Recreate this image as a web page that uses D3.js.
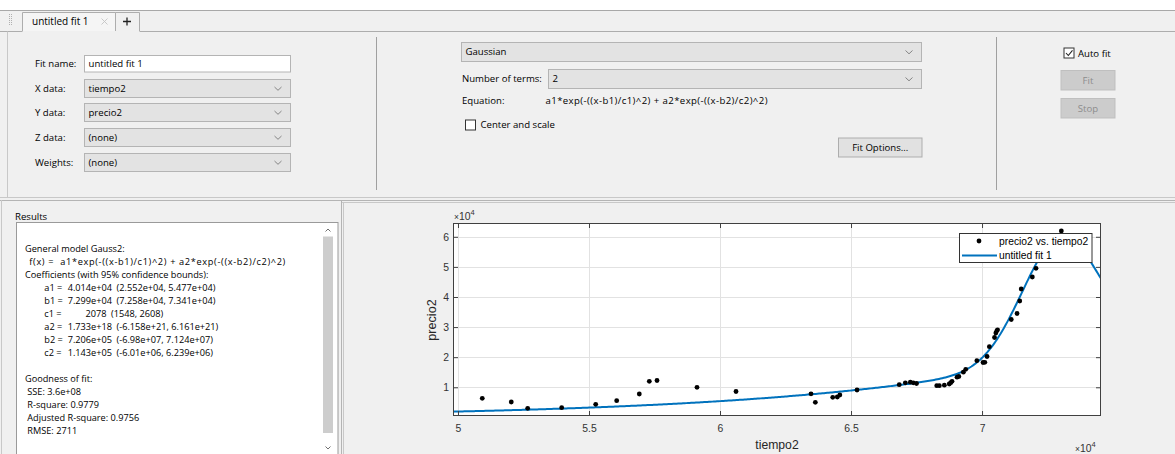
<!DOCTYPE html>
<html>
<head>
<meta charset="utf-8">
<script src="https://cdn.jsdelivr.net/npm/d3@7"></script>
<style>
  html, body { margin: 0; padding: 0; background: #f0f0f0; }
  svg { display: block; }
  .ui { font-family: "Open Sans", "Noto Sans", sans-serif; font-size: 9.6px; fill: #000; white-space: pre; }
  .res { font-family: "Open Sans", "Noto Sans", sans-serif; font-size: 9.2px; fill: #000; white-space: pre; }
  .ax { font-family: "Liberation Sans", Arial, sans-serif; }
</style>
</head>
<body>
<svg id="app" width="1175" height="454"></svg>
<script>
// Observed data: tiempo2 (x) and precio2 (y)
const tiempo2 = [50927, 52034, 52660, 53958, 55256, 56057, 56920, 57302, 57596, 59122,
  60611, 63473, 63638, 64302, 64477, 64573, 65229, 66840, 67073, 67264,
  67378, 67500, 68271, 68371, 68562, 68749, 68806, 68855, 69046, 69115,
  69287, 69378, 69802, 70038, 70107, 70191, 70279, 70477, 70527, 70565,
  70592, 71115, 71336, 71439, 71495, 71919, 72060, 73026];
const precio2 = [6345, 5116, 3023, 3222, 4352, 5548, 7773, 11992, 12258, 9999,
  8604, 7840, 5016, 6677, 6777, 7441, 9102, 10863, 11494, 11693,
  11494, 11262, 10531, 10531, 10697, 11095, 11527, 11992, 13354, 13587,
  15015, 15979, 18836, 18238, 18304, 20231, 23487, 26543, 28038, 28769,
  29101, 32522, 34516, 38668, 42655, 46641, 49531, 61922];

// Gauss2 fit coefficients and 95% confidence bounds
const coefNames = ["a1", "b1", "c1", "a2", "b2", "c2"];
const coefValues = [4.014e4, 7.299e4, 2078, 1.733e18, 7.206e5, 1.143e5];
const coefText = ["4.014e+04", "7.299e+04", "2078", "1.733e+18", "7.206e+05", "1.143e+05"];
const boundsText = ["(2.552e+04, 5.477e+04)", "(7.258e+04, 7.341e+04)", "(1548, 2608)",
  "(-6.158e+21, 6.161e+21)", "(-6.98e+07, 7.124e+07)", "(-6.01e+06, 6.239e+06)"];
const goodnessText = ["SSE: 3.6e+08", "R-square: 0.9779", "Adjusted R-square: 0.9756", "RMSE: 2711"];

// Axis settings
const xDomain = [49810, 74540];
const yDomain = [460, 64580];
const xTicks = [50000, 55000, 60000, 65000, 70000];
const xTickLabels = ["5", "5.5", "6", "6.5", "7"];
const yTicks = [10000, 20000, 30000, 40000, 50000, 60000];
const yTickLabels = ["1", "2", "3", "4", "5", "6"];
const legendLabels = ["precio2 vs. tiempo2", "untitled fit 1"];

const svg = d3.select("#app");
const BLUE = "#0072bd";

// ---------- window chrome ----------
svg.append("rect").attr("x", 0).attr("y", 0).attr("width", 1175).attr("height", 454).attr("fill", "#f0f0f0");
svg.append("rect").attr("x", 0).attr("y", 0).attr("width", 1175).attr("height", 10).attr("fill", "#ffffff");
svg.append("line").attr("x1", 0).attr("x2", 1175).attr("y1", 10.5).attr("y2", 10.5).attr("stroke", "#a8a8a8");

// grip dots
for (let i = 0; i < 6; i++) {
  svg.append("rect").attr("x", 9).attr("y", 14 + i * 2).attr("width", 1).attr("height", 1).attr("fill", "#b0b0b0");
  svg.append("rect").attr("x", 11).attr("y", 14 + i * 2).attr("width", 1).attr("height", 1).attr("fill", "#b0b0b0");
}

// tabs
svg.append("path").attr("d", "M22.5,31 V12.5 H115.5 V31").attr("fill", "#f5f5f5").attr("stroke", "#adadad");
svg.append("path").attr("d", "M115.5,31 V12.5 H139.5 V31").attr("fill", "#f0f0f0").attr("stroke", "#adadad");
svg.append("text").attr("class", "ui").attr("x", 32).attr("y", 21.5).attr("dy", "0.35em").style("font-size", "10px").text("untitled fit 1");
svg.append("path").attr("d", "M101.5,18.5 L107.5,24.5 M107.5,18.5 L101.5,24.5").attr("stroke", "#c4c4c4").attr("stroke-width", 0.9);
svg.append("path").attr("d", "M123,21.5 H131 M127,17.5 V25.5").attr("stroke", "#222").attr("stroke-width", 1.3);
svg.append("line").attr("x1", 0).attr("x2", 22.5).attr("y1", 31.5).attr("y2", 31.5).attr("stroke", "#adadad");
svg.append("line").attr("x1", 139.5).attr("x2", 1175).attr("y1", 31.5).attr("y2", 31.5).attr("stroke", "#adadad");
svg.append("line").attr("x1", 7.5).attr("x2", 7.5).attr("y1", 31.5).attr("y2", 198).attr("stroke", "#c8c8c8");

// separators in the fit panel
[376.5, 996.5].forEach(x => {
  svg.append("line").attr("x1", x).attr("x2", x).attr("y1", 37).attr("y2", 190).attr("stroke", "#a0a0a0");
});
// panel border lines
svg.append("line").attr("x1", 0).attr("x2", 1175).attr("y1", 197.5).attr("y2", 197.5).attr("stroke", "#c8c8c8");
svg.append("line").attr("x1", 0).attr("x2", 1175).attr("y1", 200.5).attr("y2", 200.5).attr("stroke", "#b4b4b4");
svg.append("line").attr("x1", 341).attr("x2", 1175).attr("y1", 202.5).attr("y2", 202.5).attr("stroke", "#c8c8c8");
svg.append("line").attr("x1", 341.5).attr("x2", 341.5).attr("y1", 200).attr("y2", 454).attr("stroke", "#b4b4b4");
svg.append("line").attr("x1", 343.5).attr("x2", 343.5).attr("y1", 202).attr("y2", 454).attr("stroke", "#c8c8c8");
svg.append("line").attr("x1", 1.5).attr("x2", 1.5).attr("y1", 200).attr("y2", 454).attr("stroke", "#c8c8c8");

function chevron(g, cx, cy, color) {
  g.append("path").attr("d", `M${cx - 3.5},${cy - 1.5} L${cx},${cy + 1.8} L${cx + 3.5},${cy - 1.5}`)
    .attr("fill", "none").attr("stroke", color || "#7a7a7a").attr("stroke-width", 0.9);
}
function combo(x, y, w, h, label) {
  svg.append("rect").attr("x", x + 0.5).attr("y", y + 0.5).attr("width", w).attr("height", h)
    .attr("fill", "#e3e3e3").attr("stroke", "#b4b4b4");
  svg.append("text").attr("class", "ui").attr("x", x + 4.5).attr("y", y + h / 2 + 0.5).attr("dy", "0.35em").text(label);
  chevron(svg, x + w - 12, y + h / 2 + 0.5);
}
function label(x, y, t, len) {
  const el = svg.append("text").attr("class", "ui").attr("x", x).attr("y", y).attr("dy", "0.35em").text(t);
  if (len) el.attr("textLength", len).attr("lengthAdjust", "spacing");
}
function button(x, y, w, h, t, disabled) {
  svg.append("rect").attr("x", x + 0.5).attr("y", y + 0.5).attr("width", w).attr("height", h)
    .attr("fill", disabled ? "#cccccc" : "#e1e1e1").attr("stroke", disabled ? "#bfbfbf" : "#adadad");
  svg.append("text").attr("class", "ui").attr("x", x + w / 2 + 0.5).attr("y", y + h / 2 + 0.5).attr("dy", "0.35em")
    .attr("text-anchor", "middle").style("fill", disabled ? "#8c8c8c" : "#000").text(t);
}
function checkbox(x, y, checked) {
  svg.append("rect").attr("x", x + 0.5).attr("y", y + 0.5).attr("width", 10).attr("height", 10)
    .attr("fill", "#ffffff").attr("stroke", "#333333");
  if (checked) {
    svg.append("path").attr("d", `M${x + 2.5},${y + 5.5} L${x + 4.8},${y + 8} L${x + 9},${y + 2.8}`)
      .attr("fill", "none").attr("stroke", "#222").attr("stroke-width", 1.1);
  }
}

// data selection block
label(35, 63.5, "Fit name:");
svg.append("rect").attr("x", 84.5).attr("y", 55.5).attr("width", 206).attr("height", 16.5)
  .attr("fill", "#ffffff").attr("stroke", "#b4b4b4");
svg.append("text").attr("class", "ui").attr("x", 88.5).attr("y", 63.8).attr("dy", "0.35em").text("untitled fit 1");
label(35, 88.3, "X data:");
combo(84, 79, 206, 18, "tiempo2");
label(35, 112.5, "Y data:");
combo(84, 103, 206, 18, "precio2");
label(35, 137.5, "Z data:");
combo(84, 128, 206, 18, "(none)");
label(35, 162.5, "Weights:");
combo(84, 153, 206, 18, "(none)");

// model block
combo(461, 42, 460, 19, "Gaussian");
label(462, 78.5, "Number of terms:");
combo(548, 69, 373, 19, "2");
label(462, 101, "Equation:");
label(545.5, 101, "a1*exp(-((x-b1)/c1)^2) + a2*exp(-((x-b2)/c2)^2)", 222);
checkbox(465, 119.5, false);
label(480.5, 125, "Center and scale");
button(838, 137.5, 83.5, 19, "Fit Options...", false);

// fit control block
checkbox(1063.5, 47.5, true);
label(1078, 53.5, "Auto fit");
button(1060.5, 70, 54, 19.5, "Fit", true);
button(1060.5, 98, 54, 19.5, "Stop", true);

// ---------- results panel ----------
label(15, 216.5, "Results");
svg.append("rect").attr("x", 16.5).attr("y", 222.5).attr("width", 321.5).attr("height", 240)
  .attr("fill", "#ffffff").attr("stroke", "#9a9a9a");
// scrollbar
svg.append("rect").attr("x", 323).attr("y", 236.5).attr("width", 10).attr("height", 196.5).attr("fill", "#cdcdcd");
svg.append("path").attr("d", "M325.5,231.5 L328,229 L330.5,231.5").attr("fill", "none").attr("stroke", "#606060").attr("stroke-width", 0.9);
svg.append("path").attr("d", "M325.5,446.5 L328,449 L330.5,446.5").attr("fill", "none").attr("stroke", "#606060").attr("stroke-width", 0.9);

const lineStep = 13.06;
const line0 = 248.3;
function resLine(i, x, t, len, anchor) {
  const el = svg.append("text").attr("class", "res").attr("x", x).attr("y", line0 + i * lineStep).attr("dy", "0.35em")
    .attr("text-anchor", anchor || "start").text(t);
  if (len) el.attr("textLength", len).attr("lengthAdjust", "spacing");
}
resLine(0, 25, "General model Gauss2:");
resLine(1, 29.3, "f(x) =  a1*exp(-((x-b1)/c1)^2) + a2*exp(-((x-b2)/c2)^2)", 256);
resLine(2, 25, "Coefficients (with 95% confidence bounds):");
coefNames.forEach((n, i) => {
  const short = coefText[i].length < 6;
  resLine(3 + i, 44.3, n + " =");
  resLine(3 + i, short ? 106.5 : 112, coefText[i], null, "end");
  resLine(3 + i, short ? 111 : 116.5, boundsText[i]);
});
resLine(10, 25, "Goodness of fit:");
goodnessText.forEach((t, i) => resLine(11 + i, 27.3, t));

// ---------- plot ----------
const plotL = 453, plotR = 1101, plotT = 223, plotB = 416;
const x = d3.scaleLinear().domain(xDomain).range([plotL, plotR]);
const y = d3.scaleLinear().domain(yDomain).range([plotB, plotT]);

const plot = svg.append("g");
plot.append("rect").attr("x", plotL).attr("y", plotT).attr("width", plotR - plotL).attr("height", plotB - plotT)
  .attr("fill", "#ffffff");

// grid
plot.append("g").selectAll("line").data(xTicks).join("line")
  .attr("x1", d => Math.round(x(d)) + 0.5).attr("x2", d => Math.round(x(d)) + 0.5)
  .attr("y1", plotT).attr("y2", plotB).attr("stroke", "#e2e2e2");
plot.append("g").selectAll("line").data(yTicks).join("line")
  .attr("y1", d => Math.round(y(d)) + 0.5).attr("y2", d => Math.round(y(d)) + 0.5)
  .attr("x1", plotL).attr("x2", plotR).attr("stroke", "#e2e2e2");

// clip for the plotted marks
svg.append("defs").append("clipPath").attr("id", "plotClip")
  .append("rect").attr("x", plotL).attr("y", plotT).attr("width", plotR - plotL).attr("height", plotB - plotT);

// fitted Gauss2 model from the reported coefficients
const [a1, b1, c1, a2, b2, c2] = coefValues;
const model = t => a1 * Math.exp(-Math.pow((t - b1) / c1, 2)) + a2 * Math.exp(-Math.pow((t - b2) / c2, 2));
const curveX = d3.range(0, 401).map(i => xDomain[0] + (xDomain[1] - xDomain[0]) * i / 400);
plot.append("path").datum(curveX)
  .attr("clip-path", "url(#plotClip)")
  .attr("d", d3.line().x(d => x(d)).y(d => y(model(d))))
  .attr("fill", "none").attr("stroke", BLUE).attr("stroke-width", 2);

// data points
plot.append("g").attr("clip-path", "url(#plotClip)").selectAll("circle").data(tiempo2).join("circle")
  .attr("cx", d => x(d)).attr("cy", (d, i) => y(precio2[i])).attr("r", 2.4).attr("fill", "#000");

// axes with inward ticks
const axisColor = "#404040";
function styleAxis(g) {
  g.select(".domain").remove();
  g.selectAll(".tick line").attr("stroke", axisColor);
  g.selectAll(".tick text").attr("fill", "#333").attr("class", "ax").style("font-size", "10.4px");
}
svg.append("g").attr("transform", `translate(0,${plotB})`)
  .call(d3.axisBottom(x).tickValues(xTicks).tickFormat((d, i) => xTickLabels[i]).tickSizeInner(-5).tickSizeOuter(0).tickPadding(9))
  .call(styleAxis);
svg.append("g").attr("transform", `translate(0,${plotT})`)
  .call(d3.axisTop(x).tickValues(xTicks).tickFormat("").tickSizeInner(-5).tickSizeOuter(0))
  .call(styleAxis);
svg.append("g").attr("transform", `translate(${plotL},0)`)
  .call(d3.axisLeft(y).tickValues(yTicks).tickFormat((d, i) => yTickLabels[i]).tickSizeInner(-5).tickSizeOuter(0).tickPadding(4))
  .call(styleAxis);
svg.append("g").attr("transform", `translate(${plotR},0)`)
  .call(d3.axisRight(y).tickValues(yTicks).tickFormat("").tickSizeInner(-5).tickSizeOuter(0))
  .call(styleAxis);
svg.append("rect").attr("x", plotL + 0.5).attr("y", plotT + 0.5).attr("width", plotR - plotL - 1).attr("height", plotB - plotT - 1)
  .attr("fill", "none").attr("stroke", axisColor);

// exponent labels
function exponent(xp, yp) {
  const t = svg.append("text").attr("class", "ax").attr("x", xp).attr("y", yp).style("fill", "#333");
  t.append("tspan").style("font-size", "8.5px").text("\u00d7");
  t.append("tspan").style("font-size", "10.4px").text("10");
  t.append("tspan").style("font-size", "7.5px").attr("dy", -5).text("4");
}
exponent(454, 220);
exponent(1075, 452);

// axis titles
svg.append("text").attr("class", "ax").attr("x", (plotL + plotR) / 2).attr("y", 449)
  .attr("text-anchor", "middle").style("font-size", "12.2px").style("fill", "#262626").text("tiempo2");
svg.append("text").attr("class", "ax").attr("transform", `translate(436,320) rotate(-90)`)
  .attr("text-anchor", "middle").style("font-size", "12.6px").style("fill", "#262626").text("precio2");

// legend
const lg = svg.append("g");
lg.append("rect").attr("x", 959.5).attr("y", 233.5).attr("width", 132.5).attr("height", 29)
  .attr("fill", "#ffffff").attr("stroke", "#333");
lg.append("circle").attr("cx", 979).attr("cy", 241).attr("r", 2.4).attr("fill", "#000");
lg.append("line").attr("x1", 962).attr("x2", 997).attr("y1", 255.5).attr("y2", 255.5).attr("stroke", BLUE).attr("stroke-width", 2);
lg.selectAll("text.lg").data(legendLabels).join("text").attr("class", "ax")
  .attr("x", 999).attr("y", (d, i) => 241 + i * 14.7).attr("dy", "0.35em")
  .style("font-size", "10.3px").style("fill", "#000").text(d => d);
</script>
</body>
</html>
